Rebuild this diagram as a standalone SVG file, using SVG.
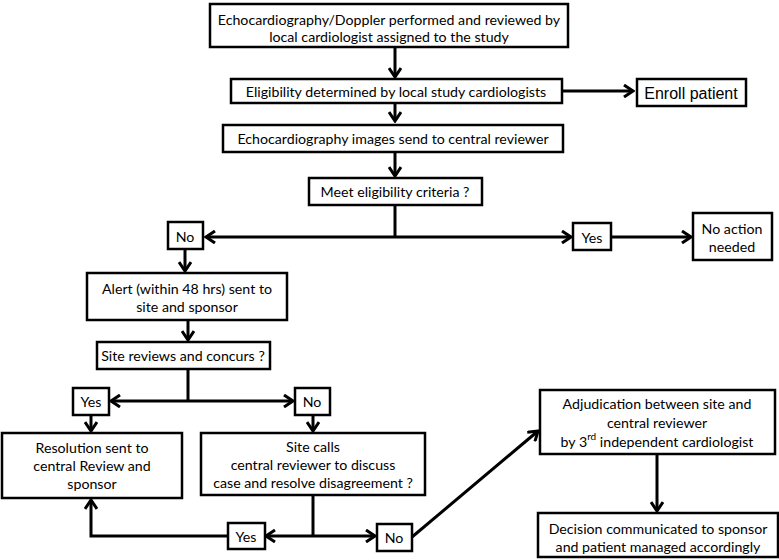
<svg xmlns="http://www.w3.org/2000/svg" width="779" height="560" viewBox="0 0 779 560">
<style>
.box{fill:#fff;stroke:#000;stroke-width:2.5}
.t{font-family:Lato,"Open Sans","Liberation Sans",sans-serif;font-size:14.2px;fill:#000;text-anchor:middle;dominant-baseline:central}
.a{font-family:"Liberation Sans",Arial,sans-serif;font-size:16px;fill:#000;text-anchor:middle;dominant-baseline:central}
.c{fill:none;stroke:#000;stroke-width:3}
.ar{marker-end:url(#arr)}
</style>
<defs>
<marker id="arr" viewBox="0 0 12 14" refX="10" refY="7" markerWidth="12" markerHeight="14" markerUnits="userSpaceOnUse" orient="auto">
<path d="M1,1 L10,7 L1,13" fill="none" stroke="#000" stroke-width="3"/>
</marker>
</defs>
<rect width="779" height="560" fill="#fff"/>
<g id="connectors">
<line class="c ar" x1="395" y1="47" x2="395" y2="77"/>
<line class="c ar" x1="562" y1="91" x2="633" y2="91"/>
<line class="c ar" x1="395" y1="103" x2="395" y2="121"/>
<line class="c ar" x1="395" y1="152" x2="395" y2="176"/>
<polyline class="c" points="395,205 395,237"/>
<line class="c ar" x1="395" y1="237" x2="206" y2="237"/>
<line class="c ar" x1="395" y1="237" x2="571" y2="237"/>
<line class="c ar" x1="611" y1="237" x2="691" y2="237"/>
<line class="c ar" x1="185" y1="249" x2="185" y2="271"/>
<line class="c ar" x1="188" y1="320" x2="188" y2="340"/>
<polyline class="c" points="188,369 188,401"/>
<line class="c ar" x1="188" y1="401" x2="111" y2="401"/>
<line class="c ar" x1="188" y1="401" x2="293" y2="401"/>
<line class="c ar" x1="91" y1="415" x2="91" y2="431"/>
<line class="c ar" x1="313" y1="415" x2="313" y2="431"/>
<polyline class="c" points="313,495 313,536"/>
<line class="c ar" x1="313" y1="536" x2="266" y2="536"/>
<line class="c ar" x1="313" y1="536" x2="375" y2="536"/>
<polyline class="c ar" points="228,536 91,536 91,500"/>
<line class="c ar" x1="412" y1="537" x2="538" y2="431"/>
<line class="c ar" x1="657" y1="454" x2="657" y2="511"/>
</g>
<g id="n1"><rect class="box" x="210" y="4" width="358" height="43"/>
<text class="t" x="389" y="19">Echocardiography/Doppler performed and reviewed by</text>
<text class="t" x="389" y="36">local cardiologist assigned to the study</text></g>
<g id="n2"><rect class="box" x="231" y="79" width="331" height="24"/>
<text class="t" x="396" y="91">Eligibility determined by local study cardiologists</text></g>
<g id="n3"><rect class="box" x="637" y="79" width="109" height="27"/>
<text class="a" x="691" y="93">Enroll patient</text></g>
<g id="n4"><rect class="box" x="223" y="125" width="340" height="27"/>
<text class="t" x="393" y="138">Echocardiography images send to central reviewer</text></g>
<g id="n5"><rect class="box" x="309" y="178" width="173" height="27"/>
<text class="t" x="395" y="191">Meet eligibility criteria ?</text></g>
<g id="n6"><rect class="box" x="168" y="222" width="35" height="27"/>
<text class="t" x="185" y="236">No</text></g>
<g id="n7"><rect class="box" x="573" y="223" width="38" height="27"/>
<text class="t" x="592" y="237">Yes</text></g>
<g id="n8"><rect class="box" x="693" y="213" width="79" height="47"/>
<text class="t" x="732" y="228">No action</text>
<text class="t" x="732" y="246">needed</text></g>
<g id="n9"><rect class="box" x="87" y="273" width="200" height="47"/>
<text class="t" x="187" y="288">Alert (within 48 hrs) sent to</text>
<text class="t" x="187" y="306">site and sponsor</text></g>
<g id="n10"><rect class="box" x="97" y="342" width="173" height="27"/>
<text class="t" x="183" y="355">Site reviews and concurs ?</text></g>
<g id="n11"><rect class="box" x="73" y="388" width="36" height="27"/>
<text class="t" x="91" y="401">Yes</text></g>
<g id="n12"><rect class="box" x="295" y="388" width="35" height="27"/>
<text class="t" x="312" y="401">No</text></g>
<g id="n13"><rect class="box" x="2" y="433" width="180" height="65"/>
<text class="t" x="92" y="447">Resolution sent to</text>
<text class="t" x="92" y="465">central Review and</text>
<text class="t" x="92" y="483">sponsor</text></g>
<g id="n14"><rect class="box" x="201" y="433" width="224" height="62"/>
<text class="t" x="313" y="446">Site calls</text>
<text class="t" x="313" y="464">central reviewer to discuss</text>
<text class="t" x="313" y="482">case and resolve disagreement ?</text></g>
<g id="n15"><rect class="box" x="228" y="523" width="37" height="26"/>
<text class="t" x="246" y="536">Yes</text></g>
<g id="n16"><rect class="box" x="377" y="524" width="35" height="27"/>
<text class="t" x="394" y="537">No</text></g>
<g id="n17"><rect class="box" x="540" y="390" width="235" height="64"/>
<text class="t" x="657" y="403">Adjudication between site and</text>
<text class="t" x="657" y="422">central reviewer</text>
<text class="t" x="657" y="441">by 3<tspan font-size="10" dy="-5">rd</tspan><tspan dy="5"> independent cardiologist</tspan></text></g>
<g id="n18"><rect class="box" x="538" y="513" width="240" height="44"/>
<text class="t" x="658" y="528">Decision communicated to sponsor</text>
<text class="t" x="658" y="546">and patient managed accordingly</text></g>
</svg>
